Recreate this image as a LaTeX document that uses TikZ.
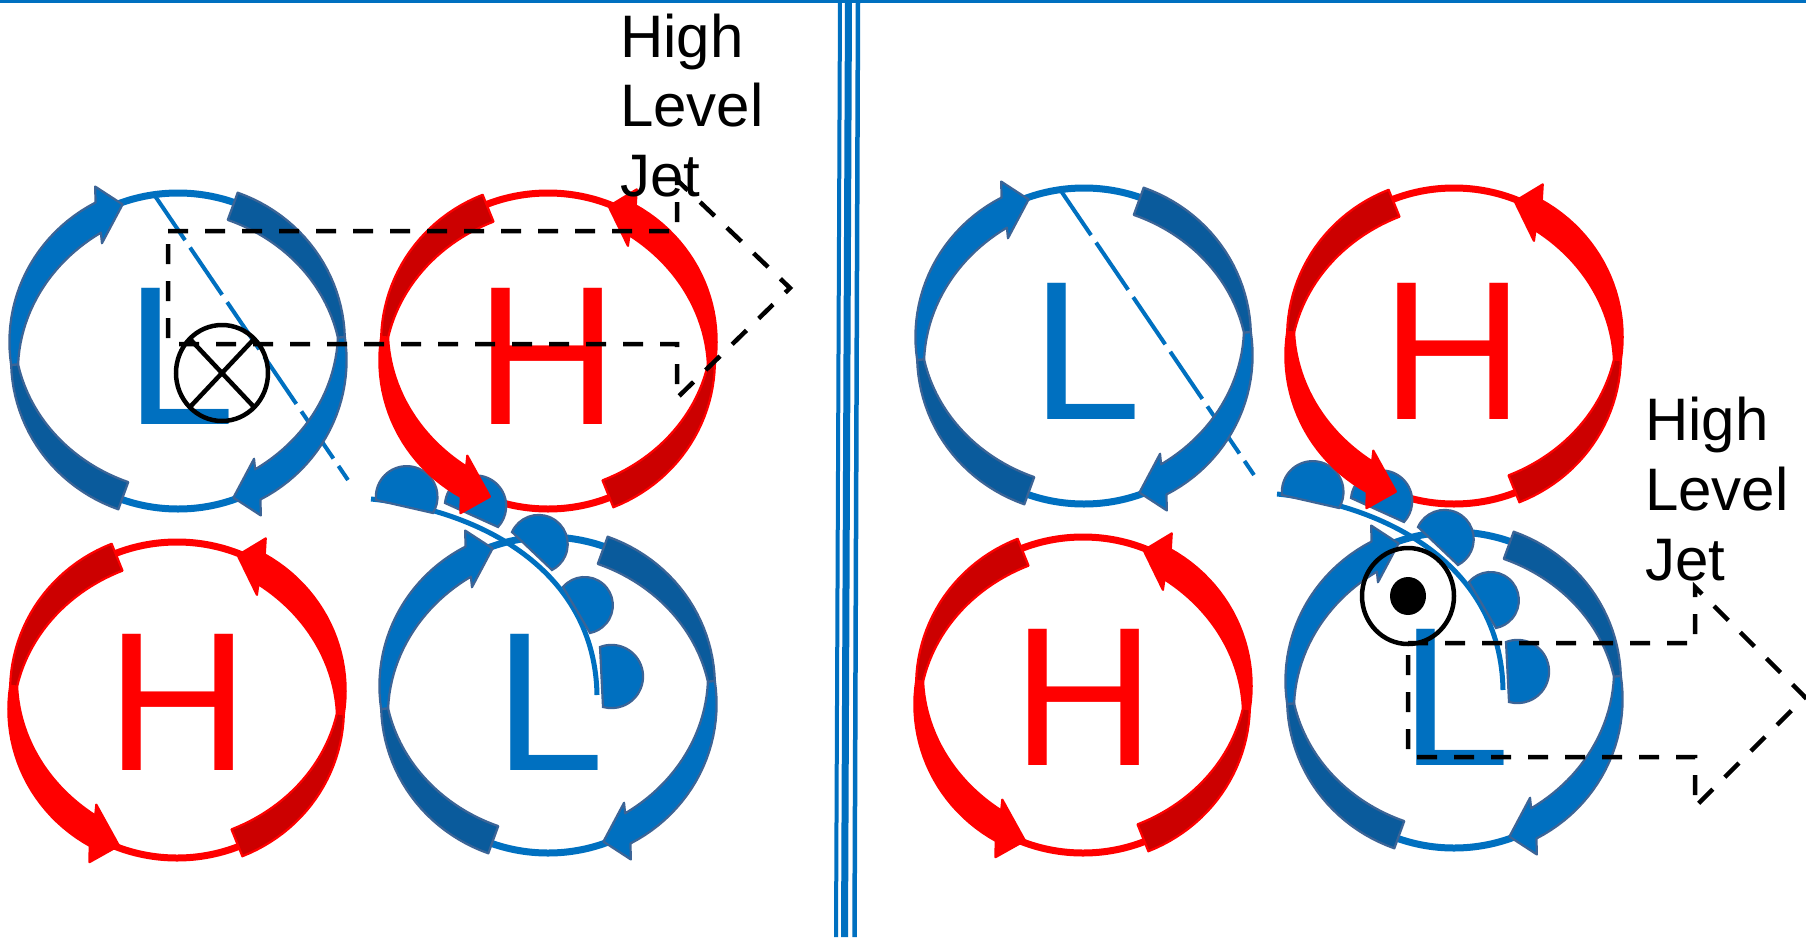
\documentclass[tikz,border=0pt]{standalone}
\usepackage{fontspec}
\setmainfont{Liberation Sans}
\usetikzlibrary{calc}

\definecolor{lblue}{HTML}{0070C0}
\definecolor{dblue}{HTML}{0A5B9C}
\definecolor{eblue}{HTML}{3C6496}
\definecolor{lred}{HTML}{FF0000}
\definecolor{dred}{HTML}{CC0000}

% twist factor of a ribbon arrow: 1 at both ends, 0 half way
\pgfmathdeclarefunction{twk}{1}{\pgfmathparse{abs(cos((180/(\tB-\tA))*((#1)-\tA)))}}

\def\rx{164}
\def\ry{158}
\def\arrline{eblue}

% ribbon arrow round an ellipse: cx, cy, flat-end angle, head-base angle, tip angle, dark fill, light fill
\newcommand\twarrow[7]{%
  \def\cx{#1}\def\cy{#2}%
  \pgfmathsetmacro\tA{#3}%
  \pgfmathsetmacro\tB{#4}%
  \pgfmathsetmacro\tM{(#3+#4)/2}%
  \pgfmathsetmacro\tBo{#4+0.18*(#5-#4)}%
  \pgfmathsetmacro\tBi{#4-0.2*(#5-#4)}%
  \pgfmathsetmacro\tWo{#4+0.4*(#5-#4)}%
  \pgfmathsetmacro\tWi{#4-0.4*(#5-#4)}%
  \filldraw[fill=#7, draw=\arrline, line width=2.2, line join=round]
    plot[domain=\tM:\tBo, samples=25, variable=\q]
      ({\cx+(\rx+3.5+7*twk(\q))*cos(\q)}, {\cy-(\ry+3.5+7*twk(\q))*sin(\q)})
    -- ({\cx+(\rx+25)*cos(\tWo)}, {\cy-(\ry+25)*sin(\tWo)})
    -- ({\cx+(\rx-2)*cos(#5)}, {\cy-(\ry-2)*sin(#5)})
    -- ({\cx+(\rx-28)*cos(\tWi)}, {\cy-(\ry-28)*sin(\tWi)})
    -- plot[domain=\tBi:\tM, samples=25, variable=\q]
      ({\cx+(\rx-3.5-15*twk(\q))*cos(\q)}, {\cy-(\ry-3.5-15*twk(\q))*sin(\q)})
    -- cycle;
  \filldraw[fill=#6, draw=\arrline, line width=2.2, line join=round]
    plot[domain=\tA:\tM, samples=25, variable=\q]
      ({\cx+(\rx+3.5+7*twk(\q))*cos(\q)}, {\cy-(\ry+3.5+7*twk(\q))*sin(\q)})
    -- plot[domain=\tM:\tA, samples=25, variable=\q]
      ({\cx+(\rx-3.5-15*twk(\q))*cos(\q)}, {\cy-(\ry-3.5-15*twk(\q))*sin(\q)})
    -- cycle;
}

% warm-front bump: a disc cut by the chord from (x1,y1) to (x2,y2)
\newcommand\bump[4]{%
  \pgfmathsetmacro\bphi{atan2((#4)-(#2),(#3)-(#1))}%
  \pgfmathsetmacro\bhalf{veclen((#3)-(#1),(#4)-(#2))/2}%
  \pgfmathsetmacro\brad{\bhalf+1.6}%
  \pgfmathsetmacro\balpha{atan2(sqrt(\brad*\brad-\bhalf*\bhalf),\bhalf)}%
  \filldraw[fill=lblue, draw=eblue, line width=2.2]
    (#1,#2) arc[start angle=\bphi+180-\balpha, end angle=\bphi+360+\balpha, radius=\brad] -- cycle;
}

\tikzset{
  lowring/.style={draw=lblue, line width=7},
  highring/.style={draw=lred, line width=7},
  trough/.style={draw=lblue, line width=4, dash pattern=on 57pt off 9pt},
  frontline/.style={draw=lblue, line width=5},
  lowlabel/.style={text=lblue, inner sep=0, font=\fontsize{198}{198}\selectfont},
  highlabel/.style={text=lred, inner sep=0, font=\fontsize{198}{198}\selectfont},
  jetline/.style={draw=black, line width=4.5, dash pattern=on 20pt off 17pt},
  jettext/.style={anchor=base west, inner sep=0, font=\fontsize{60}{70}\selectfont},
  divider/.style={draw=lblue}
}

% one panel: two lows, two highs, trough line and warm front
\newcommand\panel[1]{%
  \draw[lowring] (178,351) ellipse[x radius=\rx, y radius=\ry];
  \draw[highring] (548,351) ellipse[x radius=\rx, y radius=\ry];
  \draw[highring] (177,700) ellipse[x radius=\rx, y radius=\ry];
  \draw[lowring] (548,695) ellipse[x radius=\rx, y radius=\ry];
  \draw[trough] (153,193) -- (348,480);
  \draw[frontline] (371,499) .. controls (480,510) and (595,570) .. (597,695);
  \bump{376}{500}{433}{513}
  \bump{445}{503}{498}{527}
  \bump{512}{532}{552}{570}
  \bump{563}{587}{590}{633}
  \bump{600}{647}{603}{707}
  \def\arrline{eblue}%
  \twarrow{178}{351}{70}{-60}{-70}{dblue}{lblue}
  \twarrow{178}{351}{250}{120}{110}{dblue}{lblue}
  \twarrow{548}{695}{70}{-60}{-70}{dblue}{lblue}
  \twarrow{548}{695}{250}{120}{110}{dblue}{lblue}
  \def\arrline{lred}%
  \twarrow{548}{351}{112}{238}{249}{dred}{lred}
  \twarrow{548}{351}{-68}{58}{68}{dred}{lred}
  \twarrow{177}{700}{112}{238}{249}{dred}{lred}
  \twarrow{177}{700}{-68}{58}{68}{dred}{lred}
  \node[lowlabel] (lowNW#1) at (181,356) {L};
  \node[highlabel] (highNE#1) at (547,356) {H};
  \node[highlabel] (highSW#1) at (178,702) {H};
  \node[lowlabel] (lowSE#1) at (550,702) {L};
}

\begin{document}
\begin{tikzpicture}[x=1pt, y=-1pt]
  \fill[white] (0,0) rectangle (1806,937);
  \useasboundingbox (0,0) rectangle (1806,937);

  % frame line and triple divider
  \draw[divider, line width=3.5] (0,1.5) -- (1806,1.5);
  \draw[divider, line width=4] (840,0) -- (836,937);
  \draw[divider, line width=7] (848.5,0) -- (844.5,937);
  \draw[divider, line width=4.5] (858,0) -- (854.5,937);

  % left panel
  \panel{a}
  % flow into the page
  \draw[line width=4.5] (222,373) ellipse[x radius=46, y radius=48];
  \draw[line width=4.5] (190,339) -- (254,407) (190,407) -- (254,339);
  % jet streak, left
  \draw[jetline] (168,231) -- (677,231) -- (677,180) -- (790,288)
    -- (677,398) -- (677,344) -- (168,344) -- cycle;
  \node[jettext] (jetA1) at (620,57) {High};
  \node[jettext] (jetA2) at (620,126.5) {Level};
  \node[jettext] (jetA3) at (620,196) {Jet};

  % right panel
  \begin{scope}[shift={(906,-5)}]
    \panel{b}
  \end{scope}
  % flow out of the page
  \draw[line width=4.5] (1408,596) ellipse[x radius=46, y radius=48];
  \fill[black] (1408,596) ellipse[x radius=18, y radius=19];
  % jet streak, right
  \draw[jetline] (1408,643) -- (1695,643) -- (1695,587) -- (1805,697)
    -- (1695,807) -- (1695,757) -- (1408,757) -- cycle;
  \node[jettext] (jetB1) at (1645,440) {High};
  \node[jettext] (jetB2) at (1645,510) {Level};
  \node[jettext] (jetB3) at (1645,580) {Jet};
\end{tikzpicture}
\end{document}
